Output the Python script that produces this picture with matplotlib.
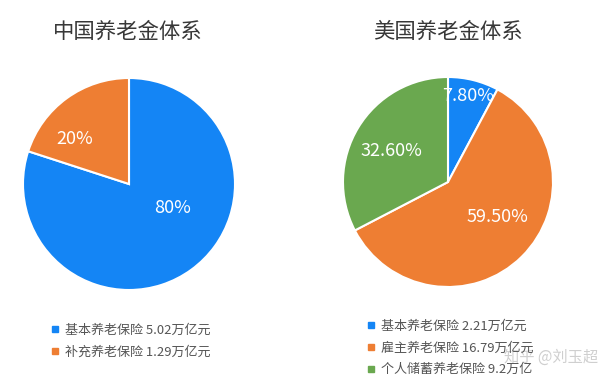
import matplotlib.pyplot as plt
from matplotlib.lines import Line2D

plt.rcParams['font.family'] = ['Noto Sans CJK SC', 'DejaVu Sans']

# data
cn_title = "中国养老金体系"
cn_labels = ["基本养老保险 5.02万亿元", "补充养老保险 1.29万亿元"]
cn_values = [80, 20]
cn_pct = ["80%", "20%"]

us_title = "美国养老金体系"
us_labels = ["基本养老保险 2.21万亿元", "雇主养老保险 16.79万亿元", "个人储蓄养老保险 9.2万亿"]
us_values = [7.8, 59.5, 32.6]
us_pct = ["7.80%", "59.50%", "32.60%"]

blue = "#1485f5"
orange = "#ee7e33"
green = "#6aa84f"

fig = plt.figure(figsize=(6, 3.86), dpi=100)
fig.patch.set_facecolor("white")


def draw_pie(rect, values, colors, pct, pct_pos, title, title_x, labels, leg_anchor):
    ax = fig.add_axes(rect)
    ax.pie(values, colors=colors, startangle=90, counterclock=False,
           wedgeprops=dict(edgecolor="white", linewidth=1.5))
    ax.set_xlim(-1, 1)
    ax.set_ylim(-1, 1)
    ax.set_aspect("equal")
    ax.axis("off")
    for t, (px, py) in zip(pct, pct_pos):
        ax.text(px, py, t, color="white", fontsize=13, ha="center", va="center")
    fig.text(title_x, 1 - 32 / 386, title, fontsize=15.4, color="#383838",
             ha="center", va="center")
    handles = [Line2D([], [], marker="s", linestyle="none", markersize=5,
                      markerfacecolor=c, markeredgecolor=c) for c in colors]
    fig.legend(handles, labels, loc="center left", bbox_to_anchor=leg_anchor,
               frameon=False, fontsize=9.4, handlelength=0.7, handletextpad=0.43,
               borderpad=0, borderaxespad=0, labelspacing=0.68,
               labelcolor="#555555")


draw_pie([23 / 600, 1 - 290 / 386, 212 / 600, 212 / 386], cn_values, [blue, orange],
         cn_pct, [(0.41, -0.23), (-0.51, 0.42)], cn_title, 128 / 600,
         cn_labels, (50.5 / 600, 1 - 341 / 386))

draw_pie([343 / 600, 1 - 287 / 386, 210 / 600, 210 / 386], us_values, [blue, orange, green],
         us_pct, [(0.19, 0.82), (0.47, -0.33), (-0.54, 0.30)], us_title, 448 / 600,
         us_labels, (366.5 / 600, 1 - 348 / 386))

# watermark
fig.text(551 / 600, 1 - 357 / 386, "知乎 @刘玉超", fontsize=11, color="#bbbbbb",
         alpha=0.7, ha="center", va="center")

fig.savefig("out.png", dpi=100, facecolor="white")
